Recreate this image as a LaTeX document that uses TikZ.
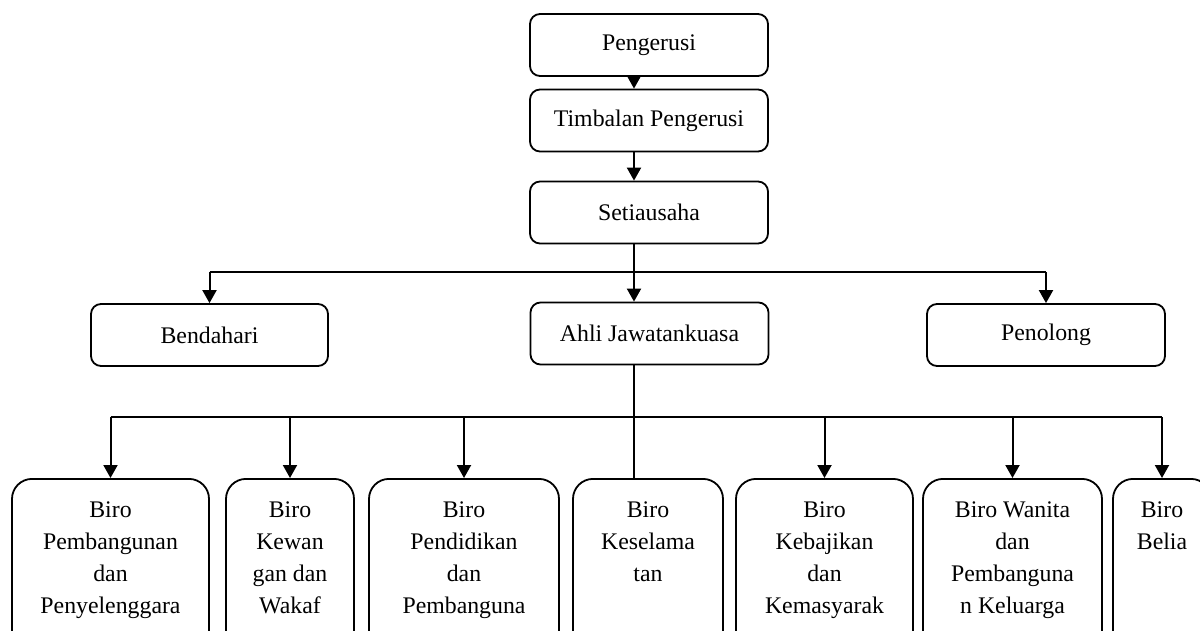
\documentclass[tikz,border=0pt]{standalone}
\usepackage{fontspec}
\setmainfont{Liberation Serif}
\usepackage{tikz}
\usetikzlibrary{positioning,arrows.meta}
\newcommand{\teks}{\fontsize{23.8}{32}\selectfont}

\begin{document}
\begin{tikzpicture}[x=1pt,y=-1pt]
\tikzstyle{jawatan}=[rectangle, rounded corners=10pt, draw=black, line width=1.8pt, minimum width=238pt, minimum height=62pt, inner sep=0pt, font=\teks]
\tikzstyle{biro}=[rectangle, rounded corners=20pt, draw=black, line width=1.8pt, anchor=north, minimum height=180pt, inner sep=0pt]
\tikzstyle{biroteks}=[anchor=north, yshift=-24pt, align=center, inner sep=0pt, font=\teks]
\tikzstyle{connect}=[-{Triangle[length=13pt,width=14pt]}, line width=2pt]
\tikzstyle{garis}=[line width=1.3pt]
\useasboundingbox (0,0) rectangle (1200,630);
\clip (0,0) rectangle (1200,630);

	\node[jawatan] (peng) at (649,45) {Pengerusi};
	\node[jawatan] (timb) at (649,120.5) {Timbalan Pengerusi};
	\node[jawatan] (seti) at (649,212.5) {Setiausaha};
	\node[jawatan] (ahli) at (649.5,333.5) {Ahli Jawatankuasa};
	\node[jawatan, minimum width=237pt] (bend) at (209.5,335) {Bendahari};
	\node[jawatan] (pen) at (1046,335) {Penolong};

	\node[biro, minimum width=197pt] (b1) at (110.5,478) [label={[biroteks]north:{Biro\\Pembangunan\\dan\\Penyelenggara}}]{};
	\node[biro, minimum width=128pt] (b2) at (290,478) [label={[biroteks]north:{Biro\\Kewan\\gan dan\\Wakaf}}]{};
	\node[biro, minimum width=190pt] (b3) at (464,478) [label={[biroteks]north:{Biro\\Pendidikan\\dan\\Pembanguna}}]{};
	\node[biro, minimum width=150pt] (b4) at (648,478) [label={[biroteks]north:{Biro\\Keselama\\tan}}]{};
	\node[biro, minimum width=177pt] (b5) at (824.5,478) [label={[biroteks]north:{Biro\\Kebajikan\\dan\\Kemasyarak}}]{};
	\node[biro, minimum width=179pt] (b6) at (1012.5,478) [label={[biroteks]north:{Biro Wanita\\dan\\Pembanguna\\n Keluarga}}]{};
	\node[biro, minimum width=98pt] (b7) at (1162,478) [label={[biroteks]north:{Biro\\Belia}}]{};

	\coordinate (spine) at (634,0);
	\coordinate (atas) at (634,272);
	\coordinate (bawah) at (634,417);

	\path
		(peng.south -| spine) edge [connect] (timb.north -| spine)
		(timb.south -| spine) edge [connect] (seti.north -| spine)
		(seti.south -| spine) edge [connect] (ahli.north -| spine)
		(atas -| bend.north) edge [garis] (atas -| pen.north)
		(atas -| bend.north) edge [connect] (bend.north)
		(atas -| pen.north) edge [connect] (pen.north)
		(ahli.south -| spine) edge [line width=2pt] (b4.north -| spine)
		(bawah -| b1.north) edge [garis] (bawah -| b7.north);

	\foreach \b in {b1,b2,b3,b5,b6,b7}
		\draw[connect] (bawah -| \b.north) -- (\b.north);

\end{tikzpicture}
\end{document}
